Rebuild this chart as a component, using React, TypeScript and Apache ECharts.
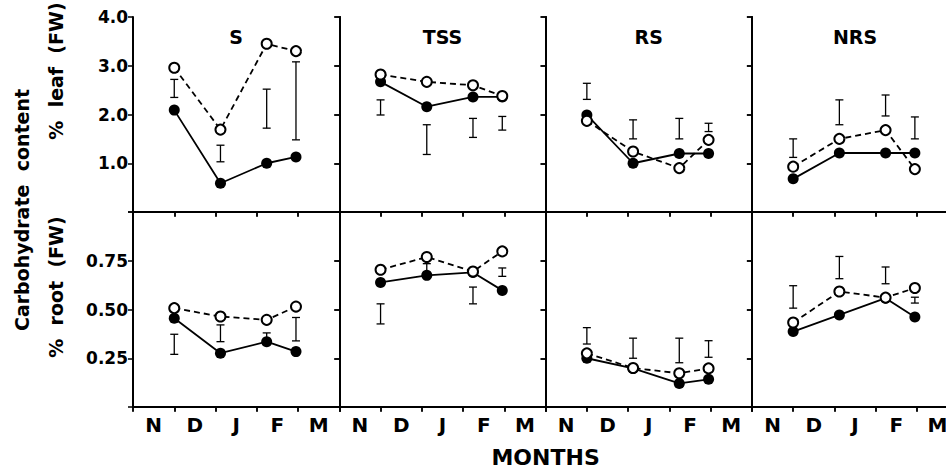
import React, { useEffect, useRef } from "react";
import * as echarts from "echarts";

// ---- data ----
const months = ["N", "D", "J", "F", "M"];
const panelNames = ["S", "TSS", "RS", "NRS"];
// sampling dates, in months from 1 November
const sampleMonth = [1.0, 2.12, 3.24, 3.95];

// leaf (% FW)
const leafSolid = [
  [2.09, 0.59, 1.0, 1.13],
  [2.67, 2.16, 2.36, 2.36],
  [1.99, 1.0, 1.2, 1.2],
  [0.68, 1.21, 1.21, 1.21],
];
const leafOpen = [
  [2.96, 1.69, 3.45, 3.3],
  [2.82, 2.67, 2.6, 2.38],
  [1.87, 1.24, 0.9, 1.48],
  [0.93, 1.5, 1.68, 0.88],
];
const leafBars = [
  [[2.35, 2.72], [1.03, 1.37], [1.72, 2.52], [1.48, 3.08]],
  [[1.99, 2.3], [1.18, 1.79], [1.53, 1.92], [1.68, 1.96]],
  [[2.31, 2.64], [1.5, 1.89], [1.5, 1.92], [1.65, 1.82]],
  [[1.12, 1.5], [1.79, 2.3], [1.97, 2.4], [1.5, 1.95]],
];

// root (% FW)
const rootSolid = [
  [0.455, 0.276, 0.335, 0.284],
  [0.639, 0.675, 0.69, 0.598],
  [0.25, 0.198, 0.121, 0.142],
  [0.387, 0.472, 0.558, 0.461],
];
const rootOpen = [
  [0.507, 0.464, 0.447, 0.515],
  [0.704, 0.769, 0.695, 0.798],
  [0.275, 0.2, 0.173, 0.198],
  [0.433, 0.592, 0.561, 0.61],
];
const rootBars = [
  [[0.27, 0.373], [0.335, 0.421], [0.33, 0.38], [0.339, 0.459]],
  [[0.426, 0.529], [0.68, 0.735], [0.529, 0.615], [0.67, 0.713]],
  [[0.323, 0.407], [0.25, 0.353], [0.227, 0.353], [0.255, 0.34]],
  [[0.507, 0.622], [0.658, 0.772], [0.632, 0.718], [0.533, 0.563]],
];

const leafTicks = { min: 0, max: 4, interval: 1 };
const rootTicks = { min: 0, max: 1, interval: 0.25 };

const FONT = "DejaVu Sans";

export default function App() {
  const ref = useRef<HTMLDivElement>(null);

  useEffect(() => {
    if (!ref.current) return;
    const chart = echarts.init(ref.current, null, { renderer: "svg" });

    const panelLeft = 133;
    const panelW = 206.3;
    const rowTop = [17, 212];
    const rowH = 195;

    const grids: any[] = [];
    const xAxes: any[] = [];
    const yAxes: any[] = [];
    const series: any[] = [];
    const axisLine = { show: true, lineStyle: { color: "#000", width: 2 } };
    const tickStyle = { color: "#000", width: 1.5 };

    for (let r = 0; r < 2; r++) {
      for (let c = 0; c < 4; c++) {
        const gi = grids.length;
        grids.push({
          left: panelLeft + c * panelW,
          top: rowTop[r],
          width: panelW,
          height: rowH,
          containLabel: false,
        });
        // bottom category axis (labels + ticks)
        xAxes.push({
          type: "category",
          gridIndex: gi,
          data: months,
          boundaryGap: true,
          position: "bottom",
          axisLine,
          axisTick: { show: true, inside: false, length: 4, lineStyle: tickStyle },
          axisLabel: {
            show: r === 1,
            color: "#000",
            fontFamily: FONT,
            fontWeight: "bold",
            fontSize: 20,
            margin: 8,
          },
          splitLine: { show: false },
        });
        // top category axis (ticks only)
        xAxes.push({
          type: "category",
          gridIndex: gi,
          data: months,
          boundaryGap: true,
          position: "top",
          axisLine,
          axisTick: { show: true, inside: true, length: 5, lineStyle: tickStyle },
          axisLabel: { show: false },
          splitLine: { show: false },
        });
        // hidden value axis for plotting
        xAxes.push({
          type: "value",
          gridIndex: gi,
          min: 0,
          max: 5,
          show: false,
        });
        const sc = r === 0 ? leafTicks : rootTicks;
        yAxes.push({
          type: "value",
          gridIndex: gi,
          position: "left",
          ...sc,
          axisLine,
          axisTick: { show: true, inside: false, length: 5, lineStyle: tickStyle },
          axisLabel: {
            show: c === 0,
            color: "#000",
            fontFamily: FONT,
            fontWeight: "bold",
            fontSize: 17,
            margin: 5,
            formatter: (v: number) => {
              if (r === 0) return v === 0 ? "" : v.toFixed(1);
              return v === 0 || v === 1 ? "" : v.toFixed(2);
            },
          },
          splitLine: { show: false },
        });
        yAxes.push({
          type: "value",
          gridIndex: gi,
          position: "right",
          ...sc,
          axisLine,
          axisTick: { show: true, inside: true, length: 5, lineStyle: tickStyle },
          axisLabel: { show: false },
          splitLine: { show: false },
        });

        const xi = gi * 3 + 2;
        const yi = gi * 2;
        const solid = r === 0 ? leafSolid[c] : rootSolid[c];
        const open = r === 0 ? leafOpen[c] : rootOpen[c];
        const bars = r === 0 ? leafBars[c] : rootBars[c];

        series.push({
          type: "custom",
          xAxisIndex: xi,
          yAxisIndex: yi,
          encode: { x: 0, y: [1, 2] },
          data: bars.map((b, i) => [sampleMonth[i], b[0], b[1]]),
          z: 1,
          renderItem: (params: any, api: any) => {
            const x = api.value(0);
            const p1 = api.coord([x, api.value(2)]);
            const p2 = api.coord([x, api.value(1)]);
            const w = 4;
            const st = { stroke: "#000", lineWidth: 1.3 };
            return {
              type: "group",
              children: [
                { type: "line", shape: { x1: p1[0], y1: p1[1], x2: p2[0], y2: p2[1] }, style: st },
                { type: "line", shape: { x1: p1[0] - w, y1: p1[1], x2: p1[0] + w, y2: p1[1] }, style: st },
                { type: "line", shape: { x1: p2[0] - w, y1: p2[1], x2: p2[0] + w, y2: p2[1] }, style: st },
              ],
            };
          },
        });
        series.push({
          type: "line",
          xAxisIndex: xi,
          yAxisIndex: yi,
          data: solid.map((v, i) => [sampleMonth[i], v]),
          symbol: "circle",
          symbolSize: 11,
          showSymbol: true,
          clip: false,
          z: 2,
          itemStyle: { color: "#000" },
          lineStyle: { color: "#000", width: 1.8 },
        });
        series.push({
          type: "line",
          xAxisIndex: xi,
          yAxisIndex: yi,
          data: open.map((v, i) => [sampleMonth[i], v]),
          symbol: "circle",
          symbolSize: 10,
          showSymbol: true,
          clip: false,
          z: 3,
          itemStyle: { color: "#fff", borderColor: "#000", borderWidth: 2 },
          lineStyle: { color: "#000", width: 1.8, type: [6, 4] },
        });
      }
    }

    const graphics: any[] = panelNames.map((name, c) => ({
      type: "text",
      x: panelLeft + c * panelW + panelW / 2,
      y: 37,
      style: {
        text: name,
        fill: "#000",
        font: `bold 19px "${FONT}"`,
        textAlign: "center",
        textVerticalAlign: "middle",
      },
    }));
    graphics.push(
      {
        type: "text",
        x: 22,
        y: 210,
        rotation: Math.PI / 2,
        style: {
          text: "Carbohydrate  content",
          fill: "#000",
          font: `bold 19px "${FONT}"`,
          textAlign: "center",
          textVerticalAlign: "middle",
        },
      },
      {
        type: "text",
        x: 56,
        y: 71,
        rotation: Math.PI / 2,
        style: {
          text: "%  leaf  (FW)",
          fill: "#000",
          font: `bold 19px "${FONT}"`,
          textAlign: "center",
          textVerticalAlign: "middle",
        },
      },
      {
        type: "text",
        x: 56,
        y: 287,
        rotation: Math.PI / 2,
        style: {
          text: "%  root  (FW)",
          fill: "#000",
          font: `bold 19px "${FONT}"`,
          textAlign: "center",
          textVerticalAlign: "middle",
        },
      },
      {
        type: "text",
        x: panelLeft + 2 * panelW,
        y: 457,
        style: {
          text: "MONTHS",
          fill: "#000",
          font: `bold 22px "${FONT}"`,
          textAlign: "center",
          textVerticalAlign: "middle",
        },
      }
    );

    chart.setOption({
      animation: false,
      backgroundColor: "#fff",
      grid: grids,
      xAxis: xAxes,
      yAxis: yAxes,
      series,
      graphic: graphics,
    });

    return () => chart.dispose();
  }, []);

  // The fourth panel runs past the right edge of the window, as in the reference.
  return (
    <div
      ref={ref}
      style={{ position: "fixed", left: 0, top: 0, width: 980, height: 468, background: "#fff" }}
    />
  );
}
